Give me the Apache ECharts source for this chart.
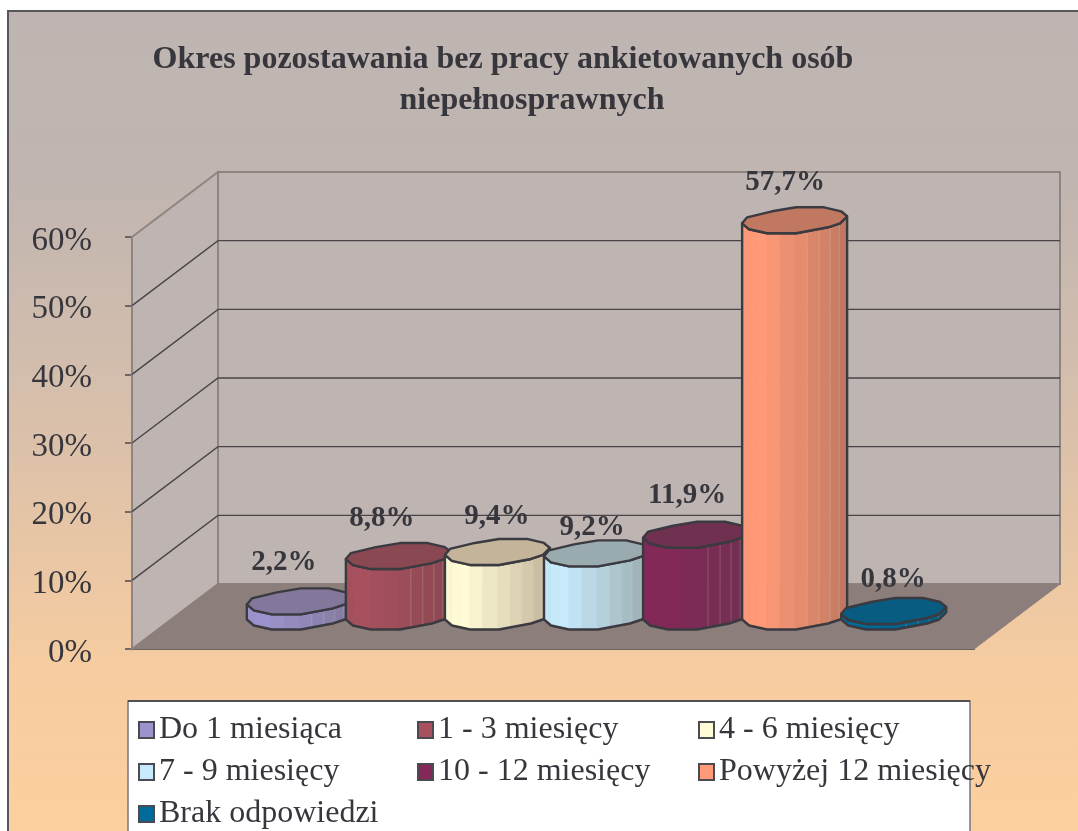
<!DOCTYPE html>
<html>
<head>
<meta charset="utf-8">
<style>html,body{margin:0;padding:0;background:#fff;overflow:hidden}#c{width:1078px;height:831px}</style>
<script src="https://cdn.jsdelivr.net/npm/echarts@6/dist/echarts.min.js"></script>
</head>
<body>
<div id="c"></div>
<script>
const categories = ['Do 1 miesiąca','1 - 3 miesięcy','4 - 6 miesięcy','7 - 9 miesięcy','10 - 12 miesięcy','Powyżej 12 miesięcy','Brak odpowiedzi'];
const values = [2.2, 8.8, 9.4, 9.2, 11.9, 57.7, 0.8];
const yTicks = [0, 10, 20, 30, 40, 50, 60];
const sideColors = ['#9C93CC','#A8505E','#FFFBD6','#C6EAFB','#842858','#FF9A78','#006A9A'];
const topColors  = ['#83789B','#8A4852','#C4B49A','#9AABAF','#703050','#C07860','#085C82'];

const titleLine1 = 'Okres pozostawania bez pracy ankietowanych osób';
const titleLine2 = 'niepełnosprawnych';
const legendCols = [[0,3,6],[1,4],[2,5]];

const INK = '#36363C';
const SERIF = '"Liberation Serif","Times New Roman",serif';
const DEPTH_X = 86, DEPTH_Y = -65;
const X_MIN = -1.25, X_MAX = 7.25;

// label offsets from the top-centre of each cylinder
const labelDx = [-15,-16,0,-4,-8,-9,0];
const labelDy = [-39,-38,-35,-26,-39,-38,-31];

// outline of the tilted faceted ellipse, relative to its centre
const ring = [[-52,3],[-47,-3],[-22,-9],[2,-13],[30,-13],[47,-9],[53,-4],[46,3],[34,7],[2,13],[-27,13],[-45,9]];
const front = [[-52,3],[-45,9],[-27,13],[2,13],[34,7],[46,3],[53,-4]];
const stripX = [-52,-45,-37,-27,-14,1,13,25,36,45,53];
const stripT = [0.06,0.02,0,0.12,0.28,0.42,0.58,0.72,0.86,1];
const facetLines = [13,25,36,45];

function frontY(x){
  for(let i=0;i<front.length-1;i++){
    const a=front[i],b=front[i+1];
    if(x<=b[0]) return a[1]+(b[1]-a[1])*(x-a[0])/(b[0]-a[0]);
  }
  return front[front.length-1][1];
}
function hex(c){return [1,3,5].map(i=>parseInt(c.substr(i,2),16));}
function mix(a,b,t){const A=hex(a),B=hex(b);return 'rgb('+A.map((v,i)=>Math.round(v+(B[i]-v)*t)).join(',')+')';}

function renderWalls(params, api){
  const p = (x,y)=>api.coord([x,y]);
  const fl=p(X_MIN,0), fr=p(X_MAX,0), tl=p(X_MIN,60);
  const back=(q)=>[q[0]+DEPTH_X,q[1]+DEPTH_Y];
  const wallStyle={fill:'#BEB5B2',stroke:'#8F8580',lineWidth:2};
  const kids=[
    {type:'polygon',shape:{points:[fl,back(fl),back(tl),tl]},style:wallStyle},
    {type:'polygon',shape:{points:[back(fl),back(fr),[back(fr)[0],back(tl)[1]],back(tl)]},style:wallStyle},
    {type:'polygon',shape:{points:[fl,fr,back(fr),back(fl)]},style:{fill:'#8C7E7A',stroke:'#8C7E7A',lineWidth:1}}
  ];
  yTicks.forEach(t=>{
    if(t===0||t===60) return;
    const a=p(X_MIN,t), b=back(a), c=[back(fr)[0],b[1]];
    kids.push({type:'polyline',shape:{points:[a,b,c]},style:{fill:'none',stroke:'#4A4448',lineWidth:1.4}});
  });
  return {type:'group',children:kids};
}

function renderCyl(idx){
  return function(params, api){
    const x=api.value(0), v=api.value(1);
    const base=api.coord([x,0]), top=api.coord([x,v]);
    const cx=base[0]+DEPTH_X/2, by=base[1]+DEPTH_Y/2, ty=top[1]+DEPTH_Y/2;
    const kids=[];
    for(let i=0;i<stripT.length;i++){
      const x0=stripX[i],x1=stripX[i+1];
      const col=mix(sideColors[idx],topColors[idx],stripT[i]);
      kids.push({type:'polygon',shape:{points:[
        [cx+x0,ty+frontY(x0)],[cx+x1,ty+frontY(x1)],[cx+x1,by+frontY(x1)],[cx+x0,by+frontY(x0)]
      ]},style:{fill:col,stroke:col,lineWidth:0.6}});
    }
    facetLines.forEach(fx=>{
      kids.push({type:'line',shape:{x1:cx+fx,y1:ty+frontY(fx),x2:cx+fx,y2:by+frontY(fx)},
        style:{stroke:'rgba(255,255,255,0.18)',lineWidth:1}});
    });
    const outline=[];
    front.forEach(q=>outline.push([cx+q[0],ty+q[1]]));
    front.slice().reverse().forEach(q=>outline.push([cx+q[0],by+q[1]]));
    kids.push({type:'polygon',shape:{points:outline},style:{fill:'none',stroke:'#3A3A40',lineWidth:2.4,lineJoin:'round'}});
    kids.push({type:'polygon',shape:{points:ring.map(q=>[cx+q[0],ty+q[1]])},style:{fill:topColors[idx],stroke:'#3A3A40',lineWidth:2.4,lineJoin:'round'}});
    kids.push({type:'text',z2:50,style:{
      x:cx+labelDx[idx],y:ty+labelDy[idx],
      text:String(v).replace('.',',')+'%',
      font:'bold 29px '+SERIF,fill:INK,align:'center',verticalAlign:'middle'}});
    return {type:'group',children:kids};
  };
}

const legendBase={
  orient:'vertical',top:714,padding:0,itemGap:10,itemWidth:15,itemHeight:16,
  icon:'rect',selectedMode:false,
  itemStyle:{borderColor:'#4A4A50',borderWidth:2},
  textStyle:{fontFamily:SERIF,fontSize:32,color:INK}
};
const titleStyle={fontFamily:SERIF,fontSize:32,fontWeight:'bold',color:INK,lineHeight:41};

const chart=echarts.init(document.getElementById('c'),null,{renderer:'canvas'});
chart.setOption({
  animation:false,
  backgroundColor:'#fff',
  title:[
    {text:titleLine1,left:503,top:39,textAlign:'center',padding:0,textStyle:titleStyle},
    {text:titleLine2,left:532,top:80,textAlign:'center',padding:0,textStyle:titleStyle}
  ],
  graphic:[
    {type:'rect',z:-10,shape:{x:8,y:11,width:1090,height:840},
     style:{stroke:'#56565C',lineWidth:2,
       fill:new echarts.graphic.LinearGradient(0,0,0,1,[
         {offset:0,color:'#BEB5B2'},{offset:0.2,color:'#C0B5B0'},{offset:0.42,color:'#D2BDAD'},
         {offset:0.78,color:'#F6CCA0'},{offset:1,color:'#FDD09F'}])}},
    {type:'rect',z:-5,shape:{x:128,y:701,width:842,height:140},
     style:{fill:'#fff',stroke:'#77777C',lineWidth:1.5}},
    {type:'line',z:-4,shape:{x1:128,y1:701,x2:970,y2:701},style:{stroke:'#3A3A40',lineWidth:1.5}}
  ],
  legend:[
    Object.assign({},legendBase,{left:138,data:legendCols[0].map(i=>categories[i])}),
    Object.assign({},legendBase,{left:417,data:legendCols[1].map(i=>categories[i])}),
    Object.assign({},legendBase,{left:698,data:legendCols[2].map(i=>categories[i])})
  ],
  grid:{left:132,top:237,width:842,height:412,containLabel:false},
  xAxis:{type:'value',min:X_MIN,max:X_MAX,splitLine:{show:false},axisTick:{show:false},axisLabel:{show:false},
    axisLine:{show:true,onZero:false,lineStyle:{color:'#4A4A50',width:2}}},
  yAxis:{type:'value',min:0,max:60,interval:10,splitLine:{show:false},
    axisLine:{show:true,onZero:false,lineStyle:{color:'#4A4A50',width:2}},
    axisTick:{show:true,length:7,lineStyle:{color:'#4A4A50',width:1.5}},
    axisLabel:{formatter:'{value}%',margin:40,verticalAlign:'top',lineHeight:8,fontFamily:SERIF,fontSize:33,color:INK}},
  series:[
    {type:'custom',name:'_walls',silent:true,z:1,data:[[0,0]],renderItem:renderWalls,encode:{x:0,y:1}}
  ].concat(categories.map((name,i)=>({
    type:'custom',name:name,z:2+i,silent:true,
    itemStyle:{color:sideColors[i]},
    data:[[i,values[i]]],renderItem:renderCyl(i),encode:{x:0,y:1}
  })))
});
</script>
</body>
</html>
